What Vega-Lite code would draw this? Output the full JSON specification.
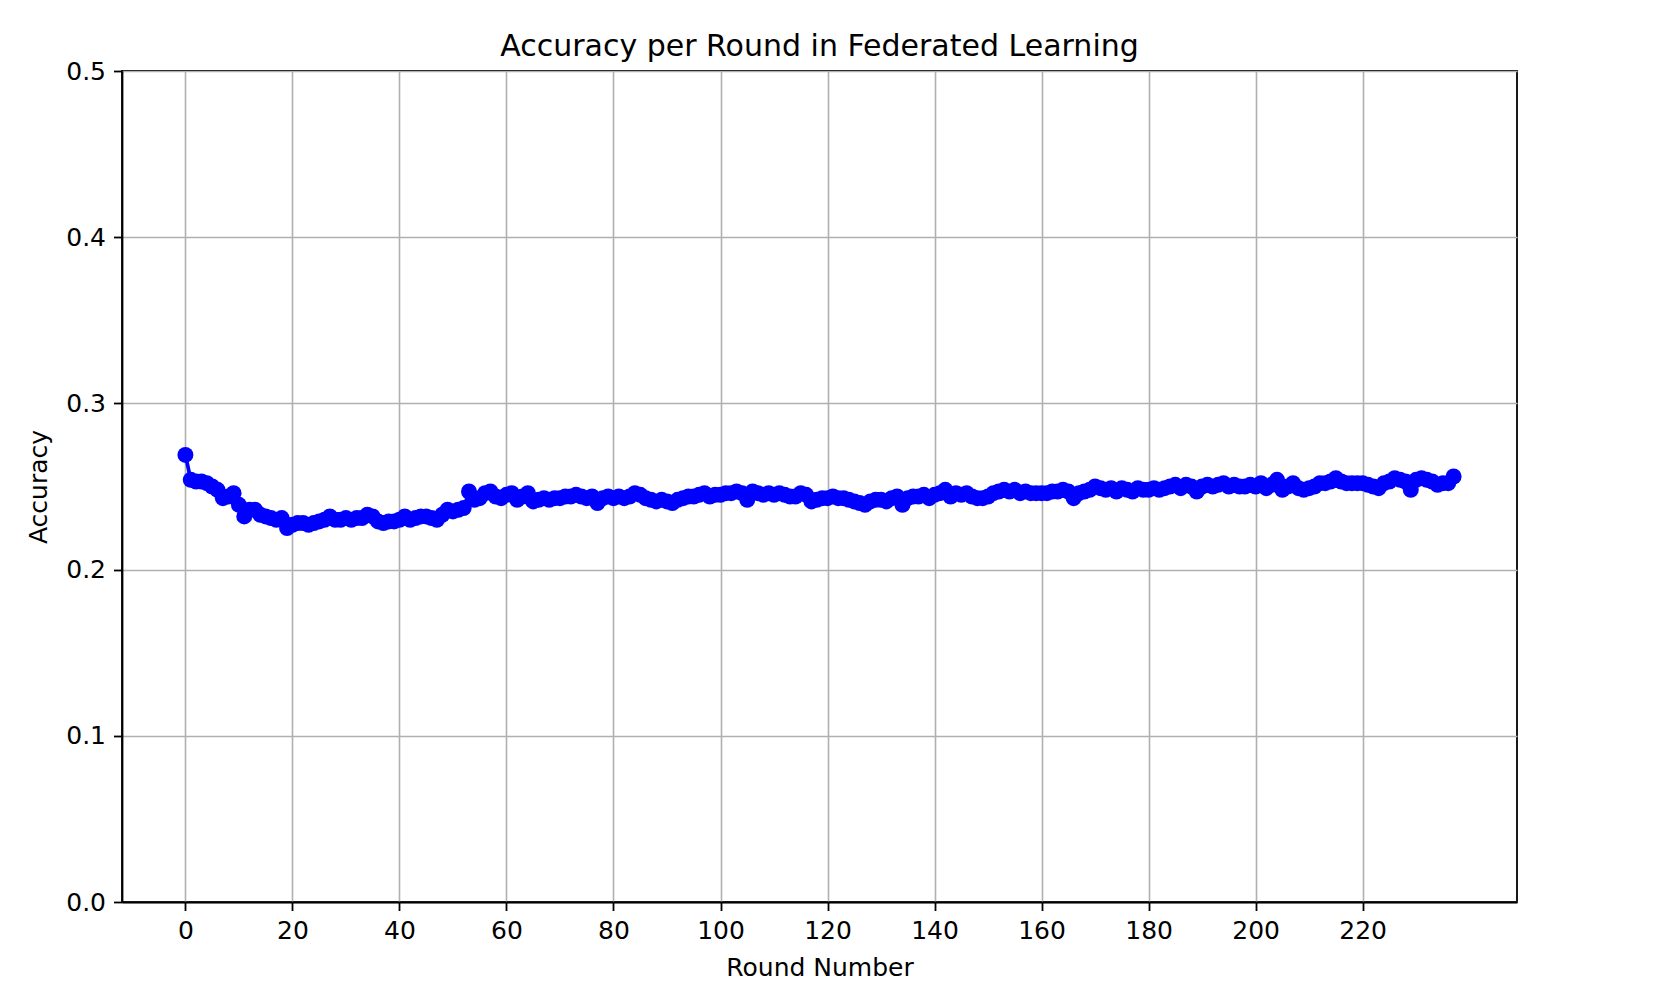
{
  "$schema": "https://vega.github.io/schema/vega-lite/v6.json",
  "width": 1395,
  "height": 831,
  "autosize": {"type": "none"},
  "padding": {"left": 122, "top": 71, "right": 139, "bottom": 102},
  "background": "white",
  "config": {
    "font": "DejaVu Sans",
    "view": {"stroke": "black", "strokeWidth": 1.8},
    "axis": {
      "grid": true,
      "gridColor": "#b0b0b0",
      "gridWidth": 1.6,
      "domain": true,
      "domainColor": "black",
      "domainWidth": 1.8,
      "tickColor": "black",
      "tickWidth": 1.8,
      "tickSize": 8.5,
      "labelPadding": 8,
      "labelFont": "DejaVu Sans",
      "labelFontSize": 25,
      "labelColor": "black",
      "titleFont": "DejaVu Sans",
      "titleFontSize": 25,
      "titleFontWeight": "normal",
      "titleColor": "black"
    }
  },
  "title": {
    "text": "Accuracy per Round in Federated Learning",
    "font": "DejaVu Sans",
    "fontSize": 30,
    "fontWeight": "normal",
    "color": "black",
    "anchor": "middle",
    "offset": -3
  },
  "data": {
    "values": [
      {"round": 0, "accuracy": 0.269}, {"round": 1, "accuracy": 0.254}, {"round": 2, "accuracy": 0.253}, {"round": 3, "accuracy": 0.253}, {"round": 4, "accuracy": 0.252},
      {"round": 5, "accuracy": 0.250}, {"round": 6, "accuracy": 0.248}, {"round": 7, "accuracy": 0.243}, {"round": 8, "accuracy": 0.244}, {"round": 9, "accuracy": 0.246},
      {"round": 10, "accuracy": 0.239}, {"round": 11, "accuracy": 0.232}, {"round": 12, "accuracy": 0.236}, {"round": 13, "accuracy": 0.236}, {"round": 14, "accuracy": 0.233},
      {"round": 15, "accuracy": 0.232}, {"round": 16, "accuracy": 0.231}, {"round": 17, "accuracy": 0.230}, {"round": 18, "accuracy": 0.231}, {"round": 19, "accuracy": 0.225},
      {"round": 20, "accuracy": 0.227}, {"round": 21, "accuracy": 0.228}, {"round": 22, "accuracy": 0.228}, {"round": 23, "accuracy": 0.227}, {"round": 24, "accuracy": 0.228},
      {"round": 25, "accuracy": 0.229}, {"round": 26, "accuracy": 0.230}, {"round": 27, "accuracy": 0.232}, {"round": 28, "accuracy": 0.230}, {"round": 29, "accuracy": 0.230},
      {"round": 30, "accuracy": 0.231}, {"round": 31, "accuracy": 0.230}, {"round": 32, "accuracy": 0.231}, {"round": 33, "accuracy": 0.231}, {"round": 34, "accuracy": 0.233},
      {"round": 35, "accuracy": 0.232}, {"round": 36, "accuracy": 0.229}, {"round": 37, "accuracy": 0.228}, {"round": 38, "accuracy": 0.229}, {"round": 39, "accuracy": 0.229},
      {"round": 40, "accuracy": 0.230}, {"round": 41, "accuracy": 0.232}, {"round": 42, "accuracy": 0.230}, {"round": 43, "accuracy": 0.231}, {"round": 44, "accuracy": 0.232},
      {"round": 45, "accuracy": 0.232}, {"round": 46, "accuracy": 0.231}, {"round": 47, "accuracy": 0.230}, {"round": 48, "accuracy": 0.233}, {"round": 49, "accuracy": 0.236},
      {"round": 50, "accuracy": 0.235}, {"round": 51, "accuracy": 0.236}, {"round": 52, "accuracy": 0.237}, {"round": 53, "accuracy": 0.247}, {"round": 54, "accuracy": 0.242},
      {"round": 55, "accuracy": 0.243}, {"round": 56, "accuracy": 0.246}, {"round": 57, "accuracy": 0.247}, {"round": 58, "accuracy": 0.244}, {"round": 59, "accuracy": 0.243},
      {"round": 60, "accuracy": 0.245}, {"round": 61, "accuracy": 0.246}, {"round": 62, "accuracy": 0.242}, {"round": 63, "accuracy": 0.244}, {"round": 64, "accuracy": 0.246},
      {"round": 65, "accuracy": 0.241}, {"round": 66, "accuracy": 0.242}, {"round": 67, "accuracy": 0.243}, {"round": 68, "accuracy": 0.242}, {"round": 69, "accuracy": 0.243},
      {"round": 70, "accuracy": 0.243}, {"round": 71, "accuracy": 0.244}, {"round": 72, "accuracy": 0.244}, {"round": 73, "accuracy": 0.245}, {"round": 74, "accuracy": 0.244},
      {"round": 75, "accuracy": 0.243}, {"round": 76, "accuracy": 0.244}, {"round": 77, "accuracy": 0.240}, {"round": 78, "accuracy": 0.243}, {"round": 79, "accuracy": 0.244},
      {"round": 80, "accuracy": 0.243}, {"round": 81, "accuracy": 0.244}, {"round": 82, "accuracy": 0.243}, {"round": 83, "accuracy": 0.244}, {"round": 84, "accuracy": 0.246},
      {"round": 85, "accuracy": 0.245}, {"round": 86, "accuracy": 0.243}, {"round": 87, "accuracy": 0.242}, {"round": 88, "accuracy": 0.241}, {"round": 89, "accuracy": 0.242},
      {"round": 90, "accuracy": 0.241}, {"round": 91, "accuracy": 0.240}, {"round": 92, "accuracy": 0.242}, {"round": 93, "accuracy": 0.243}, {"round": 94, "accuracy": 0.244},
      {"round": 95, "accuracy": 0.244}, {"round": 96, "accuracy": 0.245}, {"round": 97, "accuracy": 0.246}, {"round": 98, "accuracy": 0.244}, {"round": 99, "accuracy": 0.245},
      {"round": 100, "accuracy": 0.245}, {"round": 101, "accuracy": 0.246}, {"round": 102, "accuracy": 0.246}, {"round": 103, "accuracy": 0.247}, {"round": 104, "accuracy": 0.246},
      {"round": 105, "accuracy": 0.242}, {"round": 106, "accuracy": 0.247}, {"round": 107, "accuracy": 0.246}, {"round": 108, "accuracy": 0.245}, {"round": 109, "accuracy": 0.246},
      {"round": 110, "accuracy": 0.245}, {"round": 111, "accuracy": 0.246}, {"round": 112, "accuracy": 0.245}, {"round": 113, "accuracy": 0.244}, {"round": 114, "accuracy": 0.244},
      {"round": 115, "accuracy": 0.246}, {"round": 116, "accuracy": 0.245}, {"round": 117, "accuracy": 0.241}, {"round": 118, "accuracy": 0.242}, {"round": 119, "accuracy": 0.243},
      {"round": 120, "accuracy": 0.243}, {"round": 121, "accuracy": 0.244}, {"round": 122, "accuracy": 0.243}, {"round": 123, "accuracy": 0.243}, {"round": 124, "accuracy": 0.242},
      {"round": 125, "accuracy": 0.241}, {"round": 126, "accuracy": 0.240}, {"round": 127, "accuracy": 0.239}, {"round": 128, "accuracy": 0.241}, {"round": 129, "accuracy": 0.242},
      {"round": 130, "accuracy": 0.242}, {"round": 131, "accuracy": 0.241}, {"round": 132, "accuracy": 0.243}, {"round": 133, "accuracy": 0.244}, {"round": 134, "accuracy": 0.239},
      {"round": 135, "accuracy": 0.243}, {"round": 136, "accuracy": 0.244}, {"round": 137, "accuracy": 0.244}, {"round": 138, "accuracy": 0.245}, {"round": 139, "accuracy": 0.243},
      {"round": 140, "accuracy": 0.245}, {"round": 141, "accuracy": 0.246}, {"round": 142, "accuracy": 0.248}, {"round": 143, "accuracy": 0.244}, {"round": 144, "accuracy": 0.246},
      {"round": 145, "accuracy": 0.245}, {"round": 146, "accuracy": 0.246}, {"round": 147, "accuracy": 0.244}, {"round": 148, "accuracy": 0.243}, {"round": 149, "accuracy": 0.243},
      {"round": 150, "accuracy": 0.244}, {"round": 151, "accuracy": 0.246}, {"round": 152, "accuracy": 0.247}, {"round": 153, "accuracy": 0.248}, {"round": 154, "accuracy": 0.247},
      {"round": 155, "accuracy": 0.248}, {"round": 156, "accuracy": 0.246}, {"round": 157, "accuracy": 0.247}, {"round": 158, "accuracy": 0.246}, {"round": 159, "accuracy": 0.246},
      {"round": 160, "accuracy": 0.246}, {"round": 161, "accuracy": 0.246}, {"round": 162, "accuracy": 0.247}, {"round": 163, "accuracy": 0.247}, {"round": 164, "accuracy": 0.248},
      {"round": 165, "accuracy": 0.247}, {"round": 166, "accuracy": 0.243}, {"round": 167, "accuracy": 0.246}, {"round": 168, "accuracy": 0.247}, {"round": 169, "accuracy": 0.248},
      {"round": 170, "accuracy": 0.250}, {"round": 171, "accuracy": 0.249}, {"round": 172, "accuracy": 0.248}, {"round": 173, "accuracy": 0.249}, {"round": 174, "accuracy": 0.247},
      {"round": 175, "accuracy": 0.249}, {"round": 176, "accuracy": 0.248}, {"round": 177, "accuracy": 0.247}, {"round": 178, "accuracy": 0.249}, {"round": 179, "accuracy": 0.248},
      {"round": 180, "accuracy": 0.248}, {"round": 181, "accuracy": 0.249}, {"round": 182, "accuracy": 0.248}, {"round": 183, "accuracy": 0.249}, {"round": 184, "accuracy": 0.250},
      {"round": 185, "accuracy": 0.251}, {"round": 186, "accuracy": 0.249}, {"round": 187, "accuracy": 0.251}, {"round": 188, "accuracy": 0.250}, {"round": 189, "accuracy": 0.247},
      {"round": 190, "accuracy": 0.250}, {"round": 191, "accuracy": 0.251}, {"round": 192, "accuracy": 0.250}, {"round": 193, "accuracy": 0.251}, {"round": 194, "accuracy": 0.252},
      {"round": 195, "accuracy": 0.250}, {"round": 196, "accuracy": 0.251}, {"round": 197, "accuracy": 0.250}, {"round": 198, "accuracy": 0.250}, {"round": 199, "accuracy": 0.251},
      {"round": 200, "accuracy": 0.250}, {"round": 201, "accuracy": 0.252}, {"round": 202, "accuracy": 0.249}, {"round": 203, "accuracy": 0.251}, {"round": 204, "accuracy": 0.254},
      {"round": 205, "accuracy": 0.248}, {"round": 206, "accuracy": 0.250}, {"round": 207, "accuracy": 0.252}, {"round": 208, "accuracy": 0.249}, {"round": 209, "accuracy": 0.248},
      {"round": 210, "accuracy": 0.249}, {"round": 211, "accuracy": 0.250}, {"round": 212, "accuracy": 0.252}, {"round": 213, "accuracy": 0.252}, {"round": 214, "accuracy": 0.253},
      {"round": 215, "accuracy": 0.255}, {"round": 216, "accuracy": 0.253}, {"round": 217, "accuracy": 0.252}, {"round": 218, "accuracy": 0.252}, {"round": 219, "accuracy": 0.252},
      {"round": 220, "accuracy": 0.252}, {"round": 221, "accuracy": 0.251}, {"round": 222, "accuracy": 0.250}, {"round": 223, "accuracy": 0.249}, {"round": 224, "accuracy": 0.252},
      {"round": 225, "accuracy": 0.253}, {"round": 226, "accuracy": 0.255}, {"round": 227, "accuracy": 0.254}, {"round": 228, "accuracy": 0.253}, {"round": 229, "accuracy": 0.248},
      {"round": 230, "accuracy": 0.254}, {"round": 231, "accuracy": 0.255}, {"round": 232, "accuracy": 0.254}, {"round": 233, "accuracy": 0.253}, {"round": 234, "accuracy": 0.251},
      {"round": 235, "accuracy": 0.252}, {"round": 236, "accuracy": 0.252}, {"round": 237, "accuracy": 0.256}
    ]
  },
  "mark": {
    "type": "line",
    "color": "#0000ff",
    "strokeWidth": 3.75,
    "point": {"filled": true, "size": 256, "color": "#0000ff", "opacity": 1}
  },
  "encoding": {
    "x": {
      "field": "round",
      "type": "quantitative",
      "scale": {"domain": [-11.85, 248.85], "nice": false, "zero": false},
      "axis": {
        "title": "Round Number",
        "values": [0, 20, 40, 60, 80, 100, 120, 140, 160, 180, 200, 220],
        "format": "d",
        "titlePadding": 12
      }
    },
    "y": {
      "field": "accuracy",
      "type": "quantitative",
      "scale": {"domain": [0, 0.5], "nice": false, "zero": true},
      "axis": {
        "title": "Accuracy",
        "values": [0, 0.1, 0.2, 0.3, 0.4, 0.5],
        "format": ".1f",
        "titlePadding": 14
      }
    }
  }
}
